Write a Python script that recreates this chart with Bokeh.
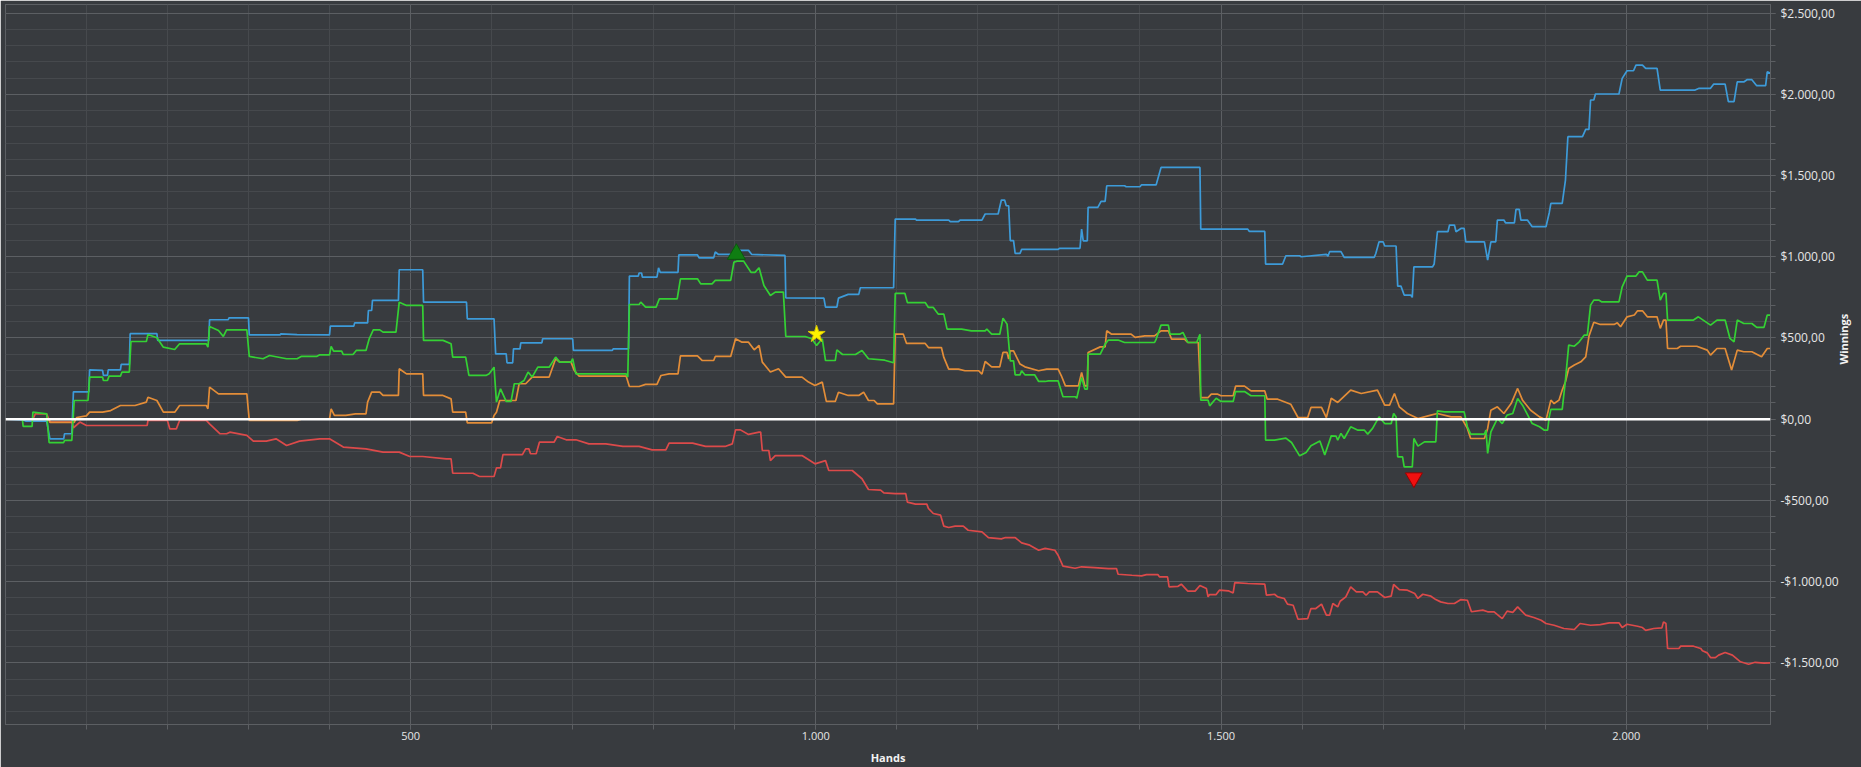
import math
from bokeh.plotting import figure
from bokeh.models import Range1d, FixedTicker, Span
from bokeh.embed import file_html
from bokeh.resources import INLINE

# ---------------- data (hand number, cumulative winnings in $) ----------------
showdown = [(2,0),(22,-5),(25,-12),(51,-12),(55,-121),(72,-121),(73,-90),(82,-90),(84,168),(103,168),(104,304),(120,300),(121,269),(126,269),(127,304),(142,304),(143,337),(153,337),(154,526),(187,526),(188,485),(251,485),(252,612),(275,612),(276,624),(300,624),(301,519),(339,519),(340,525),(360,521),(400,519),(401,573),(430,573),(431,593),(447,593),(448,669),(452,669),(453,731),(485,731),(486,920),(515,920),(516,720),(569,720),(570,618),(603,618),(605,402),(618,402),(619,347),(626,347),(627,433),(635,433),(636,470),(662,470),(663,495),(700,495),(701,423),(749,423),(750,433),(769,433),(770,881),(781,881),(782,900),(785,900),(786,875),(804,875),(806,932),(808,904),(830,904),(831,1012),(854,1012),(856,993),(874,993),(876,1029),(880,1014),(897,1014),(900,1039),(917,1039),(921,1014),(962,1008),(963,747),(1010,745),(1012,690),(1026,690),(1028,745),(1040,768),(1053,768),(1055,809),(1096,809),(1098,1232),(1123,1232),(1124,1226),(1164,1226),(1166,1216),(1176,1216),(1178,1226),(1205,1226),(1209,1263),(1225,1263),(1229,1349),(1233,1349),(1235,1314),(1238,1314),(1240,1099),(1244,1099),(1246,1021),(1252,1021),(1254,1045),(1299,1045),(1301,1052),(1326,1052),(1328,1170),(1330,1098),(1335,1098),(1336,1304),(1348,1304),(1352,1341),(1357,1341),(1359,1437),(1381,1437),(1383,1431),(1400,1431),(1402,1443),(1420,1443),(1426,1550),(1474,1550),(1475,1170),(1533,1170),(1535,1156),(1554,1156),(1555,955),(1576,955),(1580,1006),(1597,1006),(1599,1000),(1630,1014),(1632,1004),(1634,1031),(1648,1031),(1652,996),(1689,996),(1691,1020),(1695,1092),(1700,1092),(1702,1066),(1716,1066),(1718,819),(1722,819),(1726,764),(1734,764),(1736,750),(1738,938),(1761,938),(1763,955),(1767,1154),(1780,1154),(1782,1195),(1788,1195),(1790,1154),(1796,1174),(1800,1174),(1802,1092),(1825,1092),(1829,979),(1833,1092),(1839,1092),(1841,1226),(1849,1226),(1851,1209),(1862,1209),(1864,1291),(1868,1291),(1870,1226),(1878,1226),(1884,1185),(1901,1185),(1905,1271),(1907,1328),(1921,1328),(1925,1472),(1928,1739),(1946,1739),(1950,1784),(1954,1784),(1956,1965),(1960,1965),(1962,2002),(1991,2002),(1995,2098),(2001,2145),(2009,2145),(2012,2180),(2020,2180),(2024,2160),(2038,2160),(2042,2026),(2085,2026),(2090,2037),(2104,2037),(2108,2063),(2122,2063),(2126,1955),(2133,1955),(2137,2076),(2145,2076),(2149,2090),(2155,2090),(2161,2053),(2172,2053),(2174,2139),(2178,2129)]

net_won = [(2,0),(21,0),(22,-45),(33,-45),(34,43),(51,33),(54,-144),(72,-144),(73,-131),(82,-131),(85,115),(102,115),(104,259),(120,259),(121,238),(126,238),(128,265),(142,265),(144,290),(153,290),(155,478),(174,478),(176,521),(187,501),(195,443),(209,429),(215,464),(248,464),(250,443),(252,571),(263,546),(269,509),(273,550),(298,550),(301,386),(318,372),(326,392),(347,372),(360,372),(365,386),(384,386),(388,396),(400,396),(402,448),(405,419),(415,419),(417,398),(429,398),(433,423),(445,423),(449,495),(454,550),(462,550),(466,536),(482,536),(486,720),(495,700),(515,700),(516,485),(540,485),(550,464),(552,382),(568,382),(572,269),(593,269),(597,279),(603,320),(606,105),(611,187),(618,109),(624,109),(628,218),(634,218),(640,238),(645,290),(650,259),(657,320),(671,320),(679,382),(684,351),(698,351),(700,372),(704,279),(766,279),(768,259),(770,706),(782,706),(784,720),(790,690),(803,690),(807,741),(829,741),(833,864),(854,864),(858,833),(872,833),(876,854),(895,854),(899,967),(903,973),(911,973),(920,904),(925,904),(930,932),(936,823),(944,761),(950,782),(960,782),(963,509),(987,509),(995,495),(1001,454),(1008,495),(1012,361),(1024,361),(1026,427),(1033,398),(1049,398),(1057,423),(1065,372),(1085,363),(1096,347),(1098,774),(1110,774),(1113,718),(1135,718),(1139,688),(1145,688),(1151,647),(1158,647),(1162,554),(1180,554),(1192,544),(1209,544),(1211,554),(1217,523),(1227,523),(1231,622),(1236,585),(1240,359),(1244,359),(1246,273),(1252,273),(1254,298),(1258,273),(1270,273),(1275,232),(1283,232),(1287,236),(1299,236),(1305,138),(1320,138),(1322,129),(1328,257),(1332,185),(1335,185),(1336,400),(1351,400),(1357,462),(1361,487),(1373,487),(1381,472),(1418,472),(1420,493),(1426,579),(1435,579),(1437,523),(1449,523),(1453,534),(1459,472),(1470,472),(1474,523),(1475,117),(1484,117),(1486,82),(1494,129),(1500,109),(1515,109),(1518,170),(1529,170),(1537,144),(1554,144),(1555,-129),(1566,-129),(1580,-117),(1587,-144),(1597,-226),(1605,-205),(1611,-164),(1622,-134),(1628,-220),(1636,-103),(1642,-105),(1644,-129),(1648,-88),(1652,-119),(1660,-47),(1669,-68),(1677,-68),(1681,-92),(1687,-57),(1695,14),(1702,-27),(1710,-27),(1713,35),(1716,14),(1718,-232),(1724,-232),(1726,-294),(1736,-294),(1738,-119),(1743,-166),(1751,-140),(1765,-140),(1767,51),(1776,45),(1800,45),(1804,-47),(1808,-92),(1825,-92),(1827,-68),(1829,-211),(1833,-78),(1841,4),(1847,-27),(1853,25),(1860,35),(1866,127),(1872,86),(1884,-27),(1893,-47),(1899,-68),(1903,-68),(1905,14),(1907,60),(1921,60),(1925,240),(1929,456),(1936,449),(1942,476),(1948,517),(1952,517),(1956,702),(1960,733),(1966,733),(1970,722),(1991,722),(1995,815),(2001,881),(2012,881),(2016,907),(2020,907),(2026,856),(2038,856),(2042,733),(2046,774),(2049,774),(2051,610),(2083,610),(2089,630),(2104,579),(2112,610),(2122,610),(2128,497),(2133,476),(2137,610),(2145,589),(2155,589),(2161,565),(2170,565),(2174,641),(2178,641)]

allin_ev = [(2,0),(54,0),(55,-20),(85,-20),(88,10),(100,20),(104,43),(120,43),(130,53),(142,84),(160,84),(174,105),(176,135),(187,115),(195,43),(209,43),(215,84),(248,84),(250,64),(252,197),(263,156),(298,156),(301,-8),(360,-8),(365,0),(400,0),(402,64),(406,23),(420,23),(432,33),(445,33),(447,105),(452,166),(462,166),(466,146),(485,146),(486,310),(495,279),(515,279),(516,146),(540,146),(550,125),(552,43),(568,43),(570,-23),(600,-23),(603,23),(606,43),(610,115),(630,115),(634,218),(642,218),(650,259),(671,259),(679,372),(684,351),(698,351),(702,300),(708,265),(766,265),(770,201),(782,201),(790,214),(804,214),(809,269),(819,279),(830,279),(833,390),(854,390),(860,361),(874,361),(876,386),(895,386),(901,495),(909,474),(917,474),(924,427),(930,454),(934,351),(944,290),(954,310),(963,259),(983,259),(991,228),(999,207),(1008,228),(1013,109),(1024,109),(1028,166),(1040,146),(1053,146),(1059,166),(1065,115),(1072,115),(1076,94),(1096,94),(1098,523),(1108,523),(1112,466),(1135,466),(1139,441),(1155,441),(1158,380),(1164,308),(1176,308),(1184,298),(1201,298),(1205,277),(1209,355),(1217,322),(1227,322),(1231,411),(1236,411),(1238,370),(1240,421),(1244,421),(1252,339),(1258,322),(1275,298),(1285,308),(1299,308),(1303,267),(1308,205),(1324,205),(1328,287),(1332,205),(1335,205),(1336,411),(1351,445),(1357,445),(1359,544),(1365,523),(1389,523),(1394,503),(1406,513),(1418,513),(1426,544),(1435,544),(1439,493),(1455,493),(1459,472),(1472,472),(1475,133),(1484,133),(1488,154),(1496,154),(1500,144),(1515,144),(1518,203),(1529,203),(1537,174),(1554,174),(1557,123),(1570,123),(1586,92),(1595,10),(1607,10),(1611,72),(1624,72),(1630,10),(1636,129),(1644,103),(1660,179),(1673,158),(1693,179),(1702,86),(1708,86),(1714,158),(1720,76),(1730,35),(1743,4),(1759,25),(1767,35),(1784,14),(1796,14),(1804,-57),(1808,-119),(1825,-119),(1829,-57),(1833,55),(1841,76),(1849,35),(1858,96),(1866,189),(1872,117),(1882,55),(1893,14),(1901,-6),(1907,117),(1911,96),(1917,117),(1921,179),(1925,230),(1929,312),(1936,333),(1944,353),(1950,384),(1954,510),(1960,597),(1968,583),(1985,583),(1989,593),(1993,569),(2001,630),(2010,641),(2014,667),(2020,667),(2026,630),(2038,630),(2042,559),(2046,610),(2049,610),(2051,435),(2063,435),(2067,449),(2087,449),(2100,425),(2104,394),(2112,435),(2122,435),(2130,302),(2137,425),(2145,415),(2155,415),(2167,384),(2174,435),(2178,435)]

non_showdown = [(2,0),(34,0),(37,33),(51,33),(55,-18),(82,-18),(84,-53),(92,-18),(100,-39),(175,-39),(176,-8),(200,-8),(203,-60),(211,-60),(215,-8),(248,-8),(252,-29),(265,-90),(273,-90),(277,-80),(298,-100),(306,-135),(322,-135),(334,-121),(347,-162),(363,-135),(388,-121),(400,-121),(417,-172),(445,-183),(466,-203),(486,-203),(499,-230),(515,-230),(544,-244),(550,-244),(552,-333),(577,-333),(585,-353),(603,-353),(606,-300),(611,-300),(614,-218),(638,-218),(642,-183),(646,-183),(648,-213),(655,-213),(659,-142),(677,-142),(681,-107),(692,-127),(704,-127),(720,-152),(741,-152),(762,-168),(782,-168),(798,-189),(815,-189),(819,-148),(848,-148),(864,-168),(888,-168),(897,-152),(901,-66),(907,-66),(917,-94),(930,-80),(932,-80),(934,-193),(942,-193),(944,-255),(950,-224),(983,-224),(999,-275),(1012,-255),(1016,-316),(1045,-316),(1057,-367),(1065,-433),(1080,-437),(1084,-454),(1098,-458),(1111,-458),(1113,-511),(1123,-523),(1137,-523),(1139,-550),(1145,-581),(1154,-591),(1158,-659),(1164,-667),(1172,-659),(1182,-659),(1188,-684),(1205,-694),(1213,-729),(1229,-737),(1234,-729),(1246,-729),(1254,-762),(1264,-776),(1275,-807),(1283,-796),(1295,-807),(1299,-838),(1305,-905),(1320,-918),(1328,-909),(1344,-914),(1361,-920),(1371,-920),(1373,-955),(1390,-961),(1402,-965),(1408,-957),(1422,-957),(1424,-971),(1434,-971),(1436,-1033),(1447,-1029),(1451,-1016),(1459,-1059),(1468,-1059),(1474,-1024),(1482,-1043),(1484,-1094),(1486,-1080),(1494,-1080),(1498,-1053),(1509,-1057),(1515,-1070),(1517,-1006),(1533,-1012),(1554,-1016),(1556,-1084),(1566,-1078),(1570,-1094),(1578,-1104),(1582,-1139),(1589,-1146),(1595,-1232),(1607,-1228),(1611,-1166),(1617,-1166),(1624,-1139),(1630,-1207),(1634,-1207),(1638,-1135),(1644,-1156),(1647,-1121),(1654,-1094),(1660,-1033),(1667,-1063),(1675,-1063),(1679,-1084),(1683,-1063),(1693,-1063),(1702,-1098),(1710,-1090),(1713,-1018),(1720,-1049),(1730,-1053),(1739,-1074),(1743,-1104),(1749,-1078),(1759,-1090),(1765,-1111),(1771,-1125),(1780,-1135),(1788,-1135),(1796,-1111),(1804,-1115),(1809,-1186),(1823,-1176),(1829,-1186),(1837,-1186),(1847,-1228),(1853,-1182),(1860,-1190),(1866,-1156),(1876,-1207),(1886,-1221),(1895,-1238),(1901,-1258),(1911,-1269),(1923,-1289),(1936,-1295),(1943,-1258),(1956,-1269),(1968,-1265),(1979,-1254),(1991,-1254),(1995,-1283),(2001,-1263),(2014,-1275),(2020,-1283),(2024,-1300),(2034,-1289),(2044,-1285),(2046,-1248),(2049,-1258),(2051,-1412),(2065,-1412),(2067,-1398),(2083,-1398),(2092,-1412),(2094,-1426),(2100,-1439),(2104,-1468),(2110,-1468),(2114,-1453),(2122,-1437),(2131,-1453),(2141,-1494),(2151,-1509),(2159,-1497),(2170,-1502),(2178,-1500)]

# markers: best point, a flagged hand, worst point
peak_hand, peak_value = [902], [1016]
star_hand, star_value = [1001], [523]
low_hand, low_value = [1738], [-361]

x_major = [500, 1000, 1500, 2000]
x_labels = ["500", "1.000", "1.500", "2.000"]
y_major = [-1500, -1000, -500, 0, 500, 1000, 1500, 2000, 2500]
y_labels = ["-$1.500,00", "-$1.000,00", "-$500,00", "$0,00", "$500,00",
            "$1.000,00", "$1.500,00", "$2.000,00", "$2.500,00"]
x_minor = list(range(100, 2200, 100))
y_minor = list(range(-1800, 2600, 100))

# ---------------- styling ----------------
BG = "#383b3f"
FRAME = "#5c5f63"
MINOR = "#46494d"
TEXT = "#e6e6e6"
FONT = "Open Sans"

p = figure(width=1861, height=767,
           x_range=Range1d(0.2, 2178), y_range=Range1d(-1880, 2553),
           output_backend="svg", toolbar_location=None,
           y_axis_location="right", x_axis_location="below",
           background_fill_color=BG, border_fill_color=BG,
           min_border_left=5, min_border_top=4,
           min_border_right=87, min_border_bottom=43)
p.outline_line_color = FRAME
p.outline_line_width = 1

for ax, maj, mnr, labels in ((p.xaxis[0], x_major, x_minor, x_labels),
                             (p.yaxis[0], y_major, y_minor, y_labels)):
    ax.ticker = FixedTicker(ticks=maj, minor_ticks=mnr)
    ax.major_label_overrides = {t: l for t, l in zip(maj, labels)}
    ax.axis_line_color = FRAME
    ax.major_tick_line_color = FRAME
    ax.minor_tick_line_color = FRAME
    ax.major_tick_in = 0
    ax.major_tick_out = 5
    ax.minor_tick_in = 0
    ax.minor_tick_out = 5
    ax.major_label_text_color = TEXT
    ax.major_label_text_font = FONT
    ax.axis_label_text_color = "#f2f2f2"
    ax.axis_label_text_font = FONT
    ax.axis_label_text_font_size = "11px"
    ax.axis_label_text_font_style = "bold"

p.xaxis[0].major_label_text_font_size = "11px"
p.xaxis[0].axis_label = "Hands"
p.xaxis[0].major_label_standoff = 2
p.xaxis[0].axis_label_standoff = 7
p.yaxis[0].major_label_text_font_size = "12px"
p.yaxis[0].axis_label = "Winnings"
p.yaxis[0].major_label_standoff = 5
p.yaxis[0].axis_label_standoff = 2
p.yaxis[0].axis_label_orientation = math.pi / 2

for g in (p.xgrid[0], p.ygrid[0]):
    g.grid_line_color = FRAME
    g.grid_line_width = 1
    g.minor_grid_line_color = MINOR
    g.minor_grid_line_width = 1

series = [
    (showdown, "#3d9bd9"),
    (non_showdown, "#dc4a4a"),
    (allin_ev, "#e38d38"),
    (net_won, "#34d134"),
]
for data, color in series:
    hands, vals = zip(*data)
    p.line(list(hands), list(vals), line_color=color, line_width=1.7)

p.add_layout(Span(location=0, dimension="width", line_color="#ffffff", line_width=2.5))

p.scatter(peak_hand, peak_value, marker="triangle", size=18,
          fill_color="#0f7d12", line_color="#0a5a0c", line_width=1)
p.scatter(star_hand, star_value, marker="star", size=18,
          fill_color="#fff200", line_color="#d8c800", line_width=1)
p.scatter(low_hand, low_value, marker="inverted_triangle", size=17,
          fill_color="#f01010", line_color="#9a0000", line_width=1)

open("out.html", "w").write(file_html(p, INLINE))
